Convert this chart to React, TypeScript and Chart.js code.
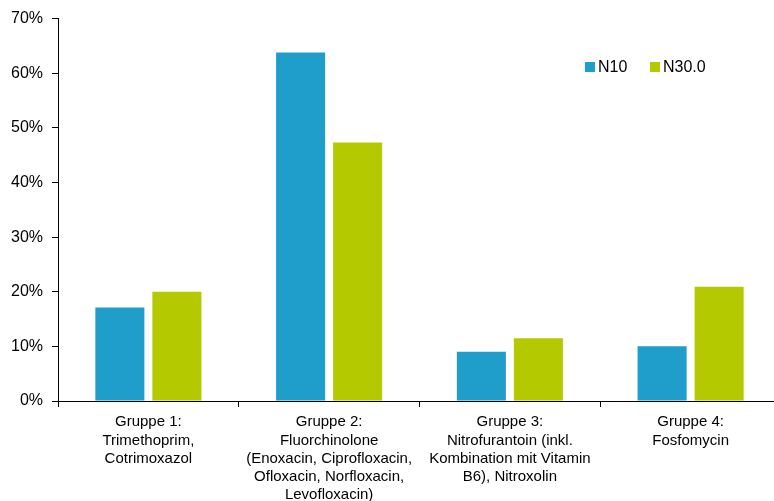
import React, { useEffect, useRef } from "react";
import { Chart, registerables } from "chart.js";

Chart.register(...registerables);

const categories: string[][] = [
  ["Gruppe 1:", "Trimethoprim,", "Cotrimoxazol"],
  ["Gruppe 2:", "Fluorchinolone", "(Enoxacin, Ciprofloxacin,", "Ofloxacin, Norfloxacin,", "Levofloxacin)"],
  ["Gruppe 3:", "Nitrofurantoin (inkl.", "Kombination mit Vitamin", "B6), Nitroxolin"],
  ["Gruppe 4:", "Fosfomycin"],
];
const seriesNames = ["N10", "N30.0"];
const n10Values = [17.1, 63.8, 9.0, 10.0];
const n30Values = [20.0, 47.3, 11.5, 20.9];
const seriesColors = ["#1F9ECB", "#B5C900"];

const legendPlugin = {
  id: "customLegend",
  afterDraw(chart: any) {
    const ctx = chart.ctx;
    ctx.save();
    ctx.font = "16px 'Liberation Sans', Arial, sans-serif";
    ctx.textBaseline = "middle";
    ctx.textAlign = "left";
    const y = 67;
    const xs = [585, 650];
    seriesNames.forEach((name, i) => {
      ctx.fillStyle = seriesColors[i];
      ctx.fillRect(xs[i], y - 5, 10, 10);
      ctx.fillStyle = "#000";
      ctx.fillText(name, xs[i] + 13, y + 1);
    });
    ctx.restore();
  },
};

export default function App() {
  const ref = useRef<HTMLCanvasElement>(null);
  useEffect(() => {
    if (!ref.current) return;
    const chart = new Chart(ref.current, {
      type: "bar",
      data: {
        labels: categories,
        datasets: [
          { label: seriesNames[0], data: n10Values, backgroundColor: seriesColors[0] },
          { label: seriesNames[1], data: n30Values, backgroundColor: seriesColors[1] },
        ],
      },
      options: {
        animation: false,
        responsive: false,
        layout: { padding: { top: 18, right: 0, left: 0, bottom: 0 } },
        datasets: { bar: { categoryPercentage: 0.631, barPercentage: 0.86 } } as any,
        plugins: { legend: { display: false }, tooltip: { enabled: false } },
        scales: {
          x: {
            grid: { display: true, offset: true, drawOnChartArea: false, drawTicks: true, tickLength: 6, color: "#000" },
            border: { display: true, color: "#000", width: 1 },
            ticks: {
              color: "#000",
              padding: 6,
              maxRotation: 0,
              autoSkip: false,
              font: { family: "'Liberation Sans', Arial, sans-serif", size: 15, lineHeight: 1.22 },
            },
            afterFit: (s: any) => { s.height = 100; },
          },
          y: {
            min: 0,
            max: 70,
            grid: { display: true, drawOnChartArea: false, drawTicks: true, tickLength: 6, color: "#000" },
            border: { display: true, color: "#000", width: 1 },
            ticks: {
              stepSize: 10,
              color: "#000",
              padding: 9,
              font: { family: "'Liberation Sans', Arial, sans-serif", size: 16 },
              callback: (v: any) => v + "%",
            },
            afterFit: (s: any) => { s.width = 58; },
          },
        },
      },
      plugins: [legendPlugin],
    });
    return () => chart.destroy();
  }, []);
  return (
    <div style={{ position: "fixed", left: 0, top: 0, width: 774, height: 501, overflow: "hidden", background: "#fff" }}>
      <canvas ref={ref} width={781} height={501} style={{ width: 781, height: 501, display: "block" }} />
    </div>
  );
}
